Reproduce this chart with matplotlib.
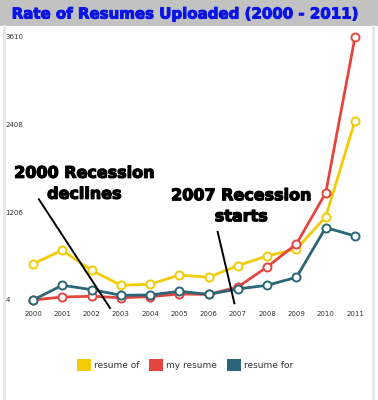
import matplotlib.pyplot as plt
import matplotlib.patheffects as pe
from matplotlib.patches import Rectangle
from matplotlib.lines import Line2D

years = list(range(2000, 2012))
resume_of = [500, 686, 411, 206, 219, 347, 315, 476, 608, 704, 1143, 2460]
my_resume = [4, 45, 55, 35, 50, 86, 80, 183, 457, 773, 1472, 3610]
resume_for = [4, 206, 146, 69, 73, 123, 82, 155, 206, 315, 997, 882]
ytick_vals = [4, 1206, 2408, 3610]

series = [
    ('resume of', resume_of, '#F2CB05'),
    ('my resume', my_resume, '#E2463F'),
    ('resume for', resume_for, '#2A6677'),
]

fig = plt.figure(figsize=(3.78, 4.0), dpi=100)
fig.patch.set_facecolor('white')

# grey title band and side borders
fig.patches.append(Rectangle((0, 1 - 26 / 400), 1, 26 / 400, transform=fig.transFigure,
                             facecolor='#C2C2C2', edgecolor='none', zorder=0))
fig.lines.append(Line2D([4 / 378, 4 / 378], [0, 1 - 26 / 400], transform=fig.transFigure,
                        color='#E6E6E6', linewidth=2))
fig.lines.append(Line2D([373 / 378, 373 / 378], [0, 1 - 26 / 400], transform=fig.transFigure,
                        color='#E6E6E6', linewidth=2))
fig.text(0.49, 1 - 14 / 400, 'Rate of Resumes Uploaded (2000 - 2011)', ha='center', va='center',
         color='#0A14E6', fontsize=10.8, fontweight='bold', family='DejaVu Sans',
         path_effects=[pe.withStroke(linewidth=0.7, foreground='#0A14E6')])

ax = fig.add_axes([33 / 378, 100 / 400, 322 / 378, 263 / 400])
ax.set_facecolor('none')

for name, vals, col in series:
    ax.plot(years, vals, color=col, linewidth=2.0, marker='o', markersize=5.8,
            markerfacecolor='white', markeredgecolor=col, markeredgewidth=1.4,
            clip_on=False, label=name)

ax.set_xlim(2000, 2011)
ax.set_ylim(4, 3610)
for s in ax.spines.values():
    s.set_visible(False)
ax.set_xticks(years)
ax.set_xticklabels([str(y) for y in years])
ax.set_yticks(ytick_vals)
ax.set_yticklabels([str(v) for v in ytick_vals])
ax.tick_params(axis='both', length=0, labelsize=5, labelcolor='#333333')
ax.tick_params(axis='x', pad=8)
ax.tick_params(axis='y', pad=20)
for lab in ax.get_yticklabels():
    lab.set_ha('left')

# annotations
heavy = [pe.withStroke(linewidth=0.9, foreground='black')]
ax.text(2001.76, 1598, '2000 Recession\ndeclines', ha='center', va='center',
        fontsize=11.5, fontweight='bold', color='black', linespacing=1.5, path_effects=heavy)
ax.plot([2000.2, 2002.63], [1385, -106], color='black', linewidth=1.4, clip_on=False)
ax.text(2007.12, 1290, '2007 Recession\nstarts', ha='center', va='center',
        fontsize=11.5, fontweight='bold', color='black', linespacing=1.5, path_effects=heavy)
ax.plot([2006.31, 2006.88], [937, -41], color='black', linewidth=1.4, clip_on=False)

handles = [Rectangle((0, 0), 1, 1, facecolor=c, edgecolor='none') for _, _, c in series]
fig.legend(handles, [n for n, _, _ in series], loc='center', bbox_to_anchor=(0.49, 1 - 365 / 400),
           ncol=3, frameon=False, fontsize=6.5, handlelength=1.55, handleheight=1.55,
           handletextpad=0.35, columnspacing=1.1, labelcolor='#333333')

fig.savefig('out.png', dpi=100)
